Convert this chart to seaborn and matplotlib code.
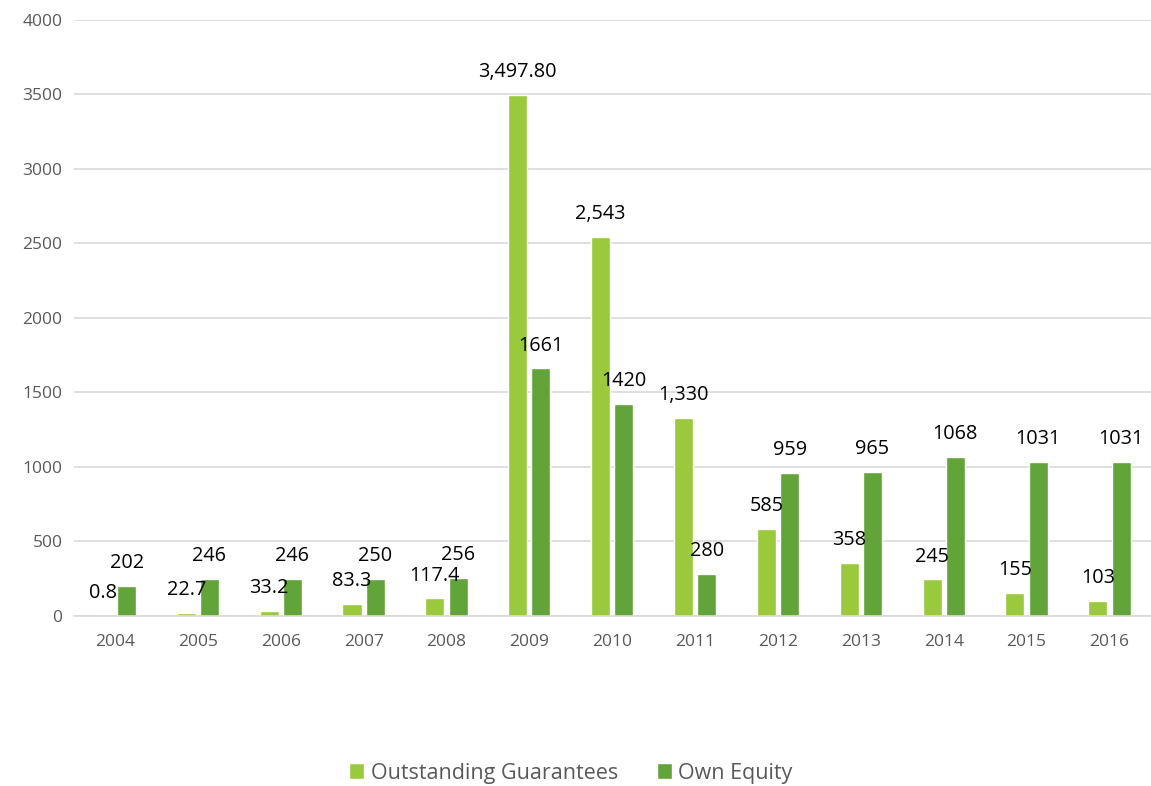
import matplotlib
matplotlib.use("Agg")
import matplotlib.pyplot as plt
import seaborn as sns
import pandas as pd

years = ["2004", "2005", "2006", "2007", "2008", "2009", "2010",
         "2011", "2012", "2013", "2014", "2015", "2016"]
guarantees = [0.8, 22.7, 33.2, 83.3, 117.4, 3497.8, 2543, 1330, 585, 358, 245, 155, 103]
equity = [202, 246, 246, 250, 256, 1661, 1420, 280, 959, 965, 1068, 1031, 1031]
guarantee_labels = ["0.8", "22.7", "33.2", "83.3", "117.4", "3,497.80", "2,543",
                    "1,330", "585", "358", "245", "155", "103"]
equity_labels = [str(v) for v in equity]
series = ["Outstanding Guarantees", "Own Equity"]
colors = ["#9ACA3C", "#62A43A"]

sns.set_theme(style="white")
plt.rcParams["font.family"] = ["Open Sans", "DejaVu Sans"]

df = pd.DataFrame({
    "year": years * 2,
    "value": guarantees + equity,
    "series": [series[0]] * len(years) + [series[1]] * len(years),
})

fig = plt.figure(figsize=(11.51, 7.86), dpi=100)
ax = fig.add_axes([0.0639, 0.2163, 0.936, 0.7583])

sns.barplot(data=df, x="year", y="value", hue="series", order=years,
            hue_order=series, palette=colors, width=0.56, gap=0.18,
            saturation=1, ax=ax, legend=True)

ax.set_ylim(0, 4000)
ax.set_xlim(-0.5, len(years) - 0.5)
ax.set_yticks(range(0, 4001, 500))
ax.yaxis.grid(True, color="#D9D9D9", linewidth=1.2)
ax.set_axisbelow(True)
for s in ["top", "right", "left"]:
    ax.spines[s].set_visible(False)
ax.spines["bottom"].set_color("#D9D9D9")
ax.spines["bottom"].set_linewidth(1.2)
ax.tick_params(axis="both", length=0, labelsize=12.5, colors="#595959", pad=8)
ax.tick_params(axis="x", pad=13)
ax.set_xlabel("")
ax.set_ylabel("")

label_sets = [guarantee_labels, equity_labels]
for container, labels in zip(ax.containers, label_sets):
    for bar, lab in zip(container, labels):
        x = bar.get_x() + bar.get_width() / 2
        y = bar.get_height()
        ax.annotate(lab, (x, y), xytext=(0, 16.5), textcoords="offset points",
                    ha="center", va="center", fontsize=14.3, color="black")

handles, labs = ax.get_legend_handles_labels()
ax.get_legend().remove()
fig.legend(handles, labs, loc="center", bbox_to_anchor=(0.496, 0.0165), ncol=2,
           frameon=False, fontsize=15.5, labelcolor="#595959", handlelength=0.7,
           handleheight=0.7, handletextpad=0.3, columnspacing=1.8)

fig.savefig("out.png", dpi=100)
